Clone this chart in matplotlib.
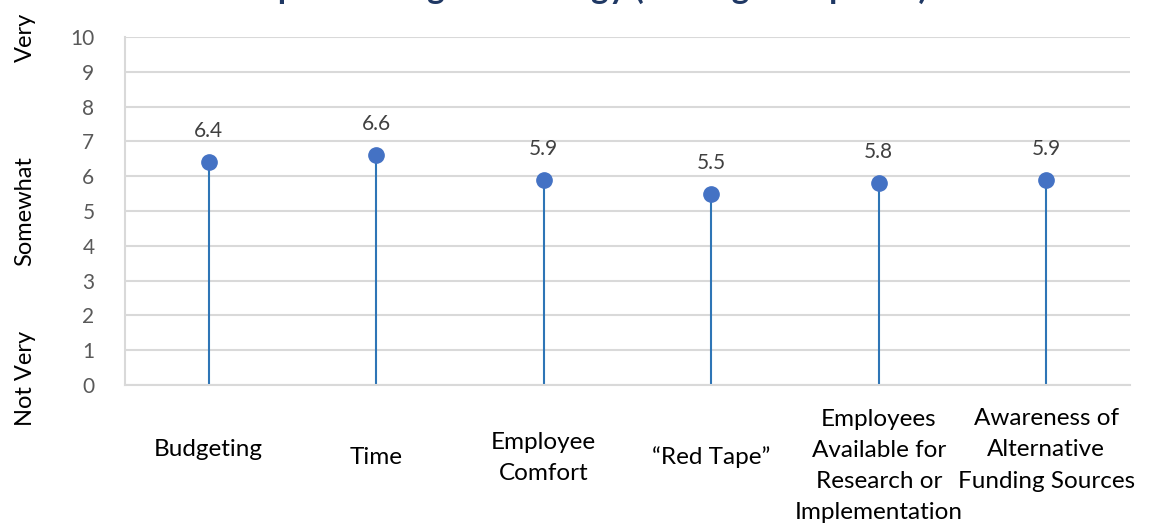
import matplotlib.pyplot as plt

plt.rcParams['font.family'] = ['Lato', 'DejaVu Sans']

categories = ['Budgeting', 'Time', 'Employee\nComfort', '\u201cRed Tape\u201d',
              'Employees\nAvailable for\nResearch or\nImplementation',
              'Awareness of\nAlternative\nFunding Sources']
scores = [6.4, 6.6, 5.9, 5.5, 5.8, 5.9]
# pixel drop of each category label's centre below the axis line
label_drop = [65, 72, 73, 72, 81, 65]

title = 'Implementing Technology (Average Response)'
side_labels = ['Very', 'Somewhat', 'Not Very']
side_values = [10, 5, 0.2]

fig = plt.figure(figsize=(11.67, 5.31), dpi=100)
ax = fig.add_axes([125 / 1167, 146 / 531, 1005 / 1167, 348 / 531])

x = list(range(len(categories)))
ax.vlines(x, 0, scores, color='#2E75B6', lw=1.5, zorder=2)
ax.plot(x, scores, 'o', color='#4472C4', ms=11, zorder=3)
for xi, v in zip(x, scores):
    ax.annotate(f'{v:.1f}', (xi, v), xytext=(0, 31), textcoords='offset pixels',
                ha='center', va='center', fontsize=15, color='#404040')

ax.set_xlim(-0.5, len(categories) - 0.5)
ax.set_ylim(0, 10)
ax.set_yticks(range(0, 11))
ax.grid(axis='y', color='#D9D9D9', lw=1.5, zorder=0)
ax.set_axisbelow(True)
ax.tick_params(axis='y', length=0, pad=22, labelsize=15, labelcolor='#595959')
ax.set_xticks([])
for side in ['top', 'right']:
    ax.spines[side].set_visible(False)
ax.spines['left'].set_color('#D9D9D9')
ax.spines['left'].set_linewidth(1.5)
ax.spines['bottom'].set_color('#D9D9D9')
ax.spines['bottom'].set_linewidth(1.5)

for xi, lab, d in zip(x, categories, label_drop):
    ax.annotate(lab, (xi, 0), xytext=(0, -d), textcoords='offset pixels',
                ha='center', va='center', fontsize=17.5, color='black',
                linespacing=1.6, annotation_clip=False)

for lab, v in zip(side_labels, side_values):
    ax.annotate(lab, (0, v), xycoords=('axes fraction', 'data'),
                xytext=(-100, 0), textcoords='offset pixels',
                ha='center', va='center', rotation=90, fontsize=17,
                color='black', annotation_clip=False)

fig.text(0.5, 1 + 1 / 531, title, ha='center', va='baseline', fontsize=24,
         fontweight='bold', color='#1F3864')

fig.savefig('out.png', dpi=100)
